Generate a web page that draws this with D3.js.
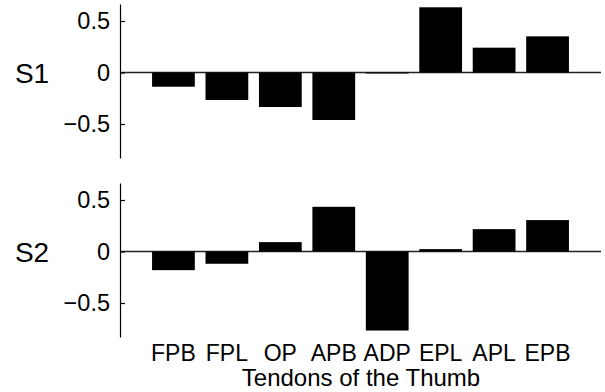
<!DOCTYPE html>
<html>
<head>
<meta charset="utf-8">
<script src="https://cdn.jsdelivr.net/npm/d3@7"></script>
<style>
  body { margin: 0; background: #fff; }
  svg { display: block; }
  text { font-family: "Liberation Sans", Arial, sans-serif; fill: #000; }
</style>
</head>
<body>
<div id="chart"></div>
<script>
// tendon names along the x axis
var tendons = ["FPB", "FPL", "OP", "APB", "ADP", "EPL", "APL", "EPB"];
// loadings
var s1 = [-0.138, -0.267, -0.335, -0.461, -0.01, 0.633, 0.241, 0.351];
var s2 = [-0.181, -0.119, 0.091, 0.434, -0.767, 0.023, 0.217, 0.305];
var yTicks = [-0.5, 0, 0.5];
var panelNames = ["S1", "S2"];

var width = 605, height = 392;
var svg = d3.select("#chart").append("svg").attr("width", width).attr("height", height);

var x = d3.scaleBand()
  .domain(tendons)
  .range([120, 601])
  .paddingInner(0.2)
  .paddingOuter(0.6);

var fmt = function(d){ return d === 0 ? "0" : d3.format(".1f")(d); };

function drawPanel(vals, name, top, bottom) {
  var y = d3.scaleLinear().domain([-0.83, 0.665]).range([bottom, top]);
  var g = svg.append("g");

  // baseline
  g.append("line")
    .attr("x1", 120).attr("x2", 601)
    .attr("y1", y(0)).attr("y2", y(0))
    .attr("stroke", "#222").attr("stroke-width", 1.3);

  g.selectAll("rect").data(vals).enter().append("rect")
    .attr("x", function(d, i){ return x(tendons[i]); })
    .attr("width", x.bandwidth())
    .attr("y", function(d){ return y(Math.max(0, d)); })
    .attr("height", function(d){ return Math.max(1, Math.abs(y(d) - y(0))); })
    .attr("fill", "#000");

  var ax = g.append("g")
    .attr("transform", "translate(120,0)")
    .call(d3.axisLeft(y).tickValues(yTicks).tickFormat(fmt).tickSize(-5).tickSizeOuter(0).tickPadding(10));
  ax.select(".domain").attr("stroke", "#000").attr("stroke-width", 1.2);
  ax.selectAll(".tick line").attr("stroke", "#000").attr("stroke-width", 1.2);
  ax.selectAll("text").style("font-size", "23.5px").attr("fill", "#000")
    .style("font-family", "'Liberation Sans', Arial, sans-serif");

  g.append("text")
    .attr("x", 32).attr("y", y(0))
    .attr("dy", "0.36em")
    .attr("text-anchor", "middle")
    .style("font-size", "28px")
    .text(name);
}

drawPanel(s1, panelNames[0], 4, 158);
drawPanel(s2, panelNames[1], 183, 337);

// x category labels below the lower panel
svg.append("g").selectAll("text").data(tendons).enter().append("text")
  .attr("x", function(d){ return x(d) + x.bandwidth() / 2; })
  .attr("y", 361)
  .attr("text-anchor", "middle")
  .style("font-size", "23px")
  .text(function(d){ return d; });

svg.append("text")
  .attr("x", 361).attr("y", 386)
  .attr("text-anchor", "middle")
  .style("font-size", "24px")
  .text("Tendons of the Thumb");
</script>
</body>
</html>
